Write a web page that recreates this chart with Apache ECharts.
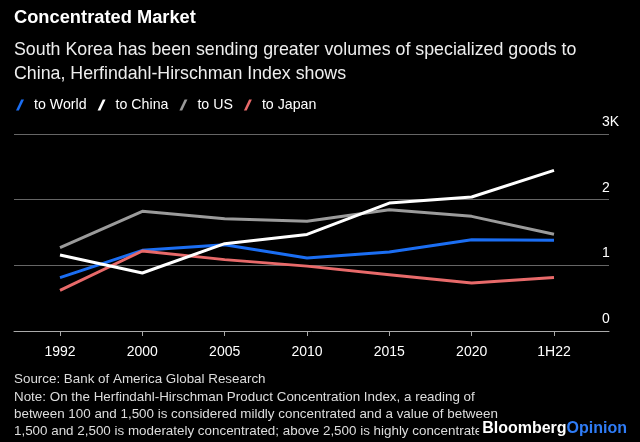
<!DOCTYPE html>
<html><head><meta charset="utf-8">
<script src="https://cdn.jsdelivr.net/npm/echarts@6/dist/echarts.min.js"></script>
<style>html,body{margin:0;padding:0;background:#000;}#c{width:640px;height:442px;}</style>
</head><body><div id="c"></div>
<script>
const categories = ['1992','2000','2005','2010','2015','2020','1H22'];
const toWorld = [813, 1228, 1315, 1111, 1202, 1391, 1381];
const toChina = [1157, 883, 1330, 1470, 1948, 2040, 2446];
const toUS = [1270, 1822, 1711, 1670, 1848, 1746, 1472];
const toJapan = [620, 1218, 1087, 988, 858, 731, 813];
const yTicks = [0, 1000, 2000, 3000];
const yTickLabels = ['0', '1', '2', '3K'];
const seriesNames = ['to World', 'to China', 'to US', 'to Japan'];
const colors = ['#1b6ef3', '#ffffff', '#9b9b9b', '#e86a6a'];

const FONT = 'Liberation Sans, Arial, sans-serif';
const chart = echarts.init(document.getElementById('c'));
const icon = 'path://M5.2,0 L8,0 L2.8,11 L0,11 Z';
const mk = (name, data, i) => ({
  name, type: 'line', data, xAxisIndex: 0, yAxisIndex: 0,
  symbol: 'none', lineStyle: { width: 3, color: colors[i] }, itemStyle: { color: colors[i] },
  z: i === 1 ? 6 : 5
});
chart.setOption({
  backgroundColor: '#000',
  animation: false,
  textStyle: { fontFamily: FONT },
  legend: {
    left: 11, top: 93, itemWidth: 8, itemHeight: 11, itemGap: 11, icon,
    textStyle: { color: '#fff', fontSize: 14.2, fontFamily: FONT, padding: [0, 0, 0, 5] },
    data: seriesNames
  },
  grid: [
    { left: 60, right: 86, top: 134, bottom: 111 },
    { left: 14, right: 31, top: 134, bottom: 111 }
  ],
  xAxis: [
    { type: 'category', gridIndex: 0, data: categories, boundaryGap: false,
      axisLine: { show: false },
      axisTick: { show: true, length: 5, alignWithLabel: true, lineStyle: { color: '#aaa' } },
      axisLabel: { color: '#fff', fontSize: 14, margin: 14, fontFamily: FONT },
      splitLine: { show: false } },
    { type: 'value', gridIndex: 1, min: 0, max: 1, show: true,
      axisLine: { show: true, onZero: false, lineStyle: { color: '#aaa', width: 1 } },
      axisTick: { show: false }, axisLabel: { show: false }, splitLine: { show: false } }
  ],
  yAxis: [
    { type: 'value', gridIndex: 0, min: yTicks[0], max: yTicks[yTicks.length - 1], interval: 1000, show: false },
    { type: 'value', gridIndex: 1, min: yTicks[0], max: yTicks[yTicks.length - 1], interval: 1000,
      position: 'right',
      axisLine: { show: false }, axisTick: { show: false },
      axisLabel: { color: '#fff', fontSize: 14, margin: -7, align: 'left', verticalAlign: 'bottom',
        padding: [0, 0, 5, 0], fontFamily: FONT,
        formatter: v => yTickLabels[yTicks.indexOf(v)] },
      splitLine: { show: true, lineStyle: { color: '#666', width: 1.2 } } }
  ],
  graphic: [
    { type: 'text', left: 14, top: 9, style: { text: 'Concentrated Market', fill: '#fff', font: 'bold 18.3px ' + FONT } },
    { type: 'text', left: 14, top: 38, style: { text: 'South Korea has been sending greater volumes of specialized goods to\nChina, Herfindahl-Hirschman Index shows', fill: '#eee', font: '17.8px ' + FONT, lineHeight: 24 } },
    { type: 'text', left: 14, top: 371, style: { text: 'Source: Bank of America Global Research\nNote: On the Herfindahl-Hirschman Product Concentration Index, a reading of\nbetween 100 and 1,500 is considered mildly concentrated and a value of between\n1,500 and 2,500 is moderately concentrated; above 2,500 is highly concentrated.', fill: '#ddd', font: '13.4px ' + FONT, lineHeight: 17.3 } },
    { type: 'text', right: 13, top: 420, z: 100, style: { rich: { a: { fill: '#fff', font: 'bold 16px ' + FONT }, b: { fill: '#2f7cf6', font: 'bold 16px ' + FONT } }, text: '{a|Bloomberg}{b|Opinion}', backgroundColor: '#000', padding: [1, 0, 1, 3] } }
  ],
  series: [
    mk(seriesNames[0], toWorld, 0),
    mk(seriesNames[1], toChina, 1),
    mk(seriesNames[2], toUS, 2),
    mk(seriesNames[3], toJapan, 3)
  ]
});
</script></body></html>
